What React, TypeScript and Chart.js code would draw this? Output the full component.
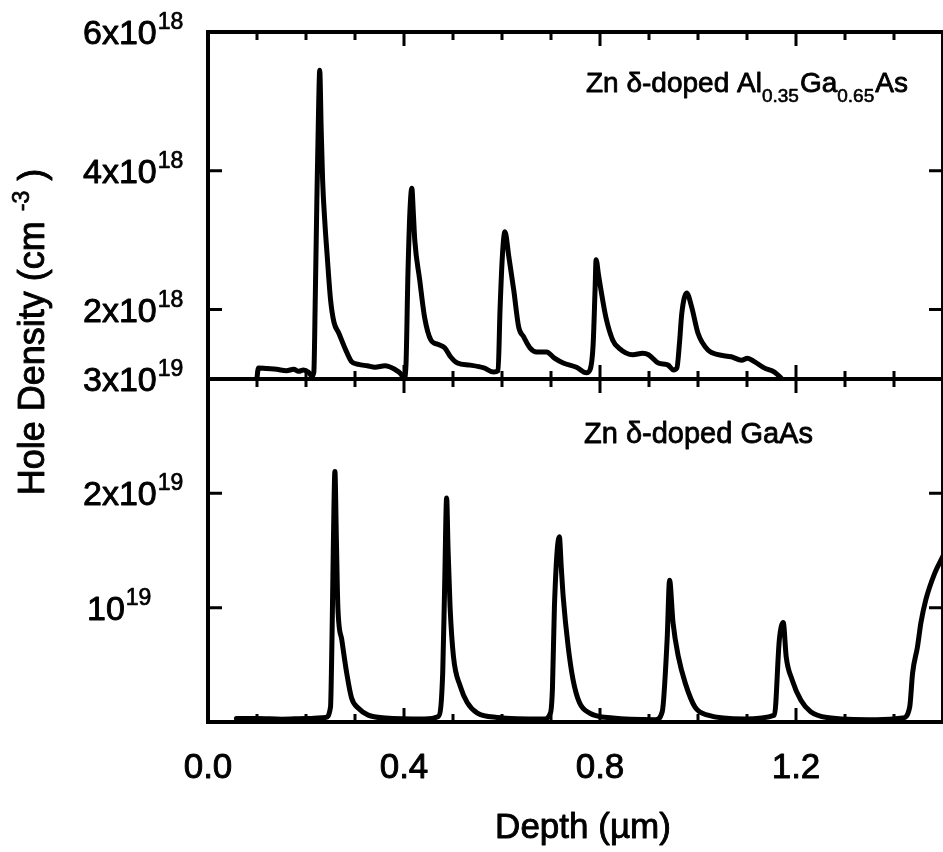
import React, { useEffect, useRef } from "react";
import { Chart, registerables } from "chart.js";

Chart.register(...registerables);

// Top panel: Zn δ-doped Al0.35Ga0.65As — depth (µm) and hole density (×10^18 cm^-3)
const topDepth = [
  0.100, 0.103, 0.120, 0.140, 0.160, 0.175, 0.185, 0.195, 0.205, 0.212,
  0.216, 0.219, 0.222, 0.226, 0.228, 0.231, 0.234, 0.239, 0.243, 0.250,
  0.257, 0.267, 0.281, 0.293, 0.307, 0.325, 0.341, 0.361, 0.381, 0.394,
  0.400, 0.404, 0.408, 0.412, 0.416, 0.419, 0.422, 0.432, 0.442, 0.455,
  0.469, 0.483, 0.495, 0.509, 0.535, 0.563, 0.583, 0.592, 0.596, 0.601,
  0.606, 0.614, 0.624, 0.634, 0.644, 0.657, 0.671, 0.691, 0.707, 0.725,
  0.752, 0.772, 0.780, 0.786, 0.790, 0.792, 0.797, 0.802, 0.812, 0.826,
  0.838, 0.867, 0.887, 0.899, 0.919, 0.939, 0.950, 0.957, 0.962, 0.967,
  0.977, 0.987, 1.000, 1.020, 1.041, 1.068, 1.089, 1.101, 1.115, 1.135,
  1.156, 1.170,
];
const topDensity = [
  1.02, 1.16, 1.15, 1.14, 1.12, 1.14, 1.11, 1.13, 1.10, 1.04,
  1.10, 2.20, 3.50, 5.00, 5.45, 4.60, 3.85, 3.20, 2.80, 2.15,
  1.82, 1.66, 1.42, 1.25, 1.21, 1.19, 1.17, 1.19, 1.14, 1.07,
  1.00, 1.20, 2.50, 3.40, 3.75, 3.40, 3.00, 2.43, 1.89, 1.56,
  1.50, 1.45, 1.32, 1.23, 1.20, 1.16, 1.10, 1.12, 2.00, 2.80,
  3.12, 2.76, 2.28, 1.75, 1.61, 1.45, 1.39, 1.39, 1.30, 1.23,
  1.17, 1.09, 1.14, 1.50, 2.30, 2.72, 2.50, 2.28, 1.89, 1.56,
  1.45, 1.35, 1.37, 1.35, 1.23, 1.20, 1.13, 1.16, 1.50, 1.95,
  2.24, 2.04, 1.66, 1.42, 1.35, 1.32, 1.27, 1.30, 1.25, 1.16,
  1.10, 1.01,
];

// Bottom panel: Zn δ-doped GaAs — depth (µm) and hole density (×10^19 cm^-3)
const bottomDepth = [
  0.058, 0.100, 0.150, 0.200, 0.240, 0.250, 0.253, 0.256, 0.259, 0.262,
  0.265, 0.273, 0.283, 0.293, 0.307, 0.327, 0.362, 0.442, 0.469, 0.479,
  0.483, 0.487, 0.490, 0.494, 0.501, 0.515, 0.529, 0.549, 0.590, 0.685,
  0.699, 0.703, 0.707, 0.717, 0.721, 0.725, 0.735, 0.745, 0.758, 0.778,
  0.826, 0.913, 0.927, 0.937, 0.942, 0.949, 0.960, 0.974, 0.994, 1.020,
  1.095, 1.156, 1.166, 1.174, 1.180, 1.192, 1.210, 1.230, 1.263, 1.364,
  1.418, 1.432, 1.438, 1.448, 1.455, 1.465, 1.483, 1.500,
];
const bottomDensity = [
  0.030, 0.030, 0.025, 0.030, 0.040, 0.130, 0.720, 1.600, 2.190, 1.600,
  1.010, 0.720, 0.430, 0.210, 0.120, 0.060, 0.035, 0.026, 0.045, 0.430,
  1.200, 1.960, 1.500, 1.010, 0.570, 0.310, 0.170, 0.080, 0.040, 0.026,
  0.080, 0.300, 1.010, 1.620, 1.350, 1.090, 0.660, 0.370, 0.170, 0.080,
  0.035, 0.020, 0.090, 0.720, 1.240, 0.870, 0.570, 0.340, 0.130, 0.060,
  0.026, 0.060, 0.720, 0.870, 0.570, 0.370, 0.190, 0.090, 0.040, 0.020,
  0.035, 0.130, 0.430, 0.660, 0.870, 1.070, 1.300, 1.450,
];

// Axes
const X_MIN = 0;
const X_MAX = 1.5;
const xTickValues = [0, 0.1, 0.2, 0.3, 0.4, 0.5, 0.6, 0.7, 0.8, 0.9, 1.0, 1.1, 1.2, 1.3, 1.4, 1.5];
const xMajorValues = [0, 0.4, 0.8, 1.2];
const xLabelTexts = ["0.0", "0.4", "0.8", "1.2"];

const TOP_MIN = 1;
const TOP_MAX = 6;
const topTickValues = [2, 4, 6];
const topTickBases = ["2x10", "4x10", "6x10"];
const topTickExps = ["18", "18", "18"];

const BOT_MIN = 0;
const BOT_MAX = 3;
const bottomTickValues = [1, 2, 3];
const bottomTickBases = ["10", "2x10", "3x10"];
const bottomTickExps = ["19", "19", "19"];

const xTitle = "Depth (µm)";
const yTitleMain = "Hole Density (cm ";
const yTitleExp = "-3";
const yTitleEnd = " )";
const topNote = ["Zn δ-doped Al", "0.35", "Ga", "0.65", "As"];
const bottomNote = "Zn δ-doped GaAs";

const FONT = '"Liberation Sans", Arial, Helvetica, sans-serif';

function heavyText(ctx: CanvasRenderingContext2D, t: string, x: number, y: number, w = 0.9) {
  ctx.lineWidth = w;
  ctx.lineJoin = "round";
  ctx.strokeText(t, x, y);
  ctx.fillText(t, x, y);
}

const framePlugin = {
  id: "framePlugin",
  afterDraw(chart: any) {
    const ctx: CanvasRenderingContext2D = chart.ctx;
    const { left, right, top, bottom } = chart.chartArea;
    const xs = chart.scales.x;
    const yT = chart.scales.yTop;
    const yB = chart.scales.yBot;
    const mid = yT.getPixelForValue(TOP_MIN);

    ctx.save();
    ctx.strokeStyle = "#000";
    ctx.fillStyle = "#000";
    ctx.lineCap = "butt";
    ctx.lineWidth = 4;
    ctx.strokeRect(left, top, right - left, bottom - top);
    ctx.beginPath();
    ctx.moveTo(left, mid);
    ctx.lineTo(right, mid);
    ctx.stroke();

    // x ticks
    ctx.lineWidth = 3;
    xTickValues.forEach((v) => {
      const px = xs.getPixelForValue(v);
      const major = xMajorValues.some((m) => Math.abs(m - v) < 1e-9);
      const len = major ? 14 : 8;
      ctx.beginPath();
      ctx.moveTo(px, top);
      ctx.lineTo(px, top + len);
      ctx.moveTo(px, mid - len);
      ctx.lineTo(px, mid + len);
      ctx.moveTo(px, bottom);
      ctx.lineTo(px, bottom - len);
      ctx.stroke();
    });

    // y ticks (left and right, inward)
    const yTick = (py: number) => {
      ctx.beginPath();
      ctx.moveTo(left, py);
      ctx.lineTo(left + 14, py);
      ctx.moveTo(right, py);
      ctx.lineTo(right - 14, py);
      ctx.stroke();
    };
    topTickValues.forEach((v) => yTick(yT.getPixelForValue(v)));
    bottomTickValues.forEach((v) => yTick(yB.getPixelForValue(v)));

    // y tick labels with superscripts
    const supLabel = (x: number, py: number, base: string, exp: string) => {
      ctx.textAlign = "left";
      ctx.textBaseline = "alphabetic";
      ctx.font = `34px ${FONT}`;
      const by = py + 12;
      heavyText(ctx, base, x, by);
      const w = ctx.measureText(base).width;
      ctx.font = `23px ${FONT}`;
      heavyText(ctx, exp, x + w + 1, by - 15, 0.7);
    };
    topTickValues.forEach((v, i) => supLabel(83, yT.getPixelForValue(v), topTickBases[i], topTickExps[i]));
    bottomTickValues.forEach((v, i) => supLabel(i === 0 ? 87 : 83, yB.getPixelForValue(v), bottomTickBases[i], bottomTickExps[i]));

    // x tick labels
    ctx.font = `35px ${FONT}`;
    ctx.textAlign = "center";
    ctx.textBaseline = "alphabetic";
    xMajorValues.forEach((v, i) => {
      heavyText(ctx, xLabelTexts[i], xs.getPixelForValue(v), 778);
    });

    // x title
    ctx.font = `35px ${FONT}`;
    heavyText(ctx, xTitle, 583, 838);

    // y title (rotated)
    ctx.save();
    ctx.translate(44, 332);
    ctx.rotate(-Math.PI / 2);
    ctx.textAlign = "left";
    ctx.font = `36px ${FONT}`;
    const w1 = ctx.measureText(yTitleMain).width;
    const w3 = ctx.measureText(yTitleEnd).width;
    ctx.font = `23px ${FONT}`;
    const w2 = ctx.measureText(yTitleExp).width;
    const total = w1 + w2 + w3;
    let sx = -total / 2;
    ctx.font = `36px ${FONT}`;
    heavyText(ctx, yTitleMain, sx, 0);
    sx += w1;
    ctx.font = `23px ${FONT}`;
    heavyText(ctx, yTitleExp, sx, -15, 0.7);
    sx += w2;
    ctx.font = `36px ${FONT}`;
    heavyText(ctx, yTitleEnd, sx, 0);
    ctx.restore();

    // panel annotations
    ctx.textAlign = "left";
    let ax = 586;
    const ay = 92;
    topNote.forEach((t, i) => {
      const sub = i % 2 === 1;
      ctx.font = sub ? `19px ${FONT}` : `28px ${FONT}`;
      heavyText(ctx, t, ax, sub ? ay + 10 : ay, sub ? 0.6 : 0.8);
      ax += ctx.measureText(t).width + (sub ? 1 : 0);
    });
    ctx.font = `29px ${FONT}`;
    heavyText(ctx, bottomNote, 584, 443, 0.8);

    ctx.restore();
  },
};

export default function App() {
  const canvasRef = useRef<HTMLCanvasElement | null>(null);

  useEffect(() => {
    const canvas = canvasRef.current;
    if (!canvas) return;
    const W = 943;
    const H = 852;
    const lineStyle = {
      borderColor: "#000",
      borderWidth: 5,
      pointRadius: 0,
      cubicInterpolationMode: "monotone",
      fill: false,
      borderJoinStyle: "round",
      borderCapStyle: "round",
    };
    const chart = new Chart(canvas, {
      type: "line",
      data: {
        datasets: [
          {
            label: "Zn δ-doped GaAs",
            data: bottomDepth.map((x, i) => ({ x, y: bottomDensity[i] })),
            yAxisID: "yBot",
            ...lineStyle,
          },
          {
            label: "Zn δ-doped Al0.35Ga0.65As",
            data: topDepth.map((x, i) => ({ x, y: topDensity[i] })),
            yAxisID: "yTop",
            ...lineStyle,
          },
        ],
      },
      options: {
        responsive: false,
        animation: false,
        devicePixelRatio: 1,
        layout: { padding: { left: 208, right: W - 950, top: 32, bottom: H - 722 } },
        plugins: { legend: { display: false }, tooltip: { enabled: false } },
        scales: {
          x: { type: "linear", min: X_MIN, max: X_MAX, display: false },
          yBot: {
            type: "linear",
            min: BOT_MIN,
            max: BOT_MAX,
            display: false,
            position: "left",
            stack: "panels",
            stackWeight: 343,
          },
          yTop: {
            type: "linear",
            min: TOP_MIN,
            max: TOP_MAX,
            display: false,
            position: "left",
            stack: "panels",
            stackWeight: 347,
          },
        },
      } as any,
      plugins: [framePlugin],
    });
    return () => chart.destroy();
  }, []);

  return (
    <div
      style={{
        position: "absolute",
        left: 0,
        top: 0,
        width: 943,
        height: 852,
        overflow: "hidden",
        background: "#fff",
      }}
    >
      <canvas ref={canvasRef} width={943} height={852} style={{ display: "block", width: 943, height: 852 }} />
    </div>
  );
}
